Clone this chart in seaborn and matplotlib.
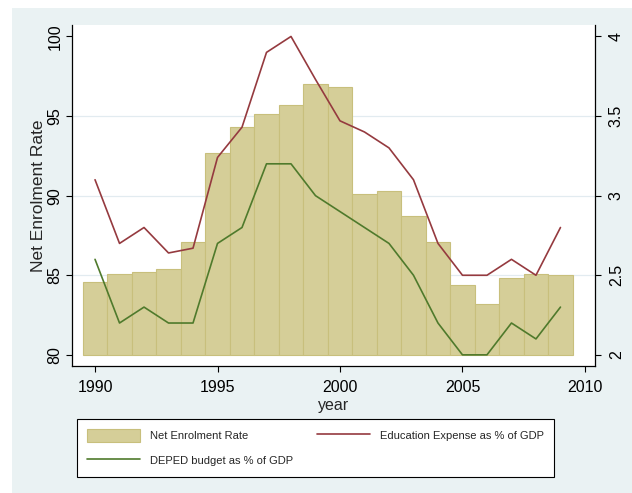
import numpy as np
import seaborn as sns
import matplotlib.pyplot as plt
from matplotlib.patches import Rectangle

############# Chart data ######################
years = np.arange(1990, 2010)
enrolment = np.array([84.6, 85.1, 85.2, 85.4, 87.1, 92.7, 94.3, 95.1, 95.7, 97.0,
                      96.8, 90.1, 90.3, 88.7, 87.1, 84.4, 83.2, 84.8, 85.1, 85.0])
edu_expense = np.array([3.1, 2.7, 2.8, 2.64, 2.67, 3.24, 3.43, 3.9, 4.0, 3.73,
                        3.47, 3.4, 3.3, 3.1, 2.7, 2.5, 2.5, 2.6, 2.5, 2.8])
deped_budget = np.array([2.6, 2.2, 2.3, 2.2, 2.2, 2.7, 2.8, 3.2, 3.2, 3.0,
                         2.9, 2.8, 2.7, 2.5, 2.2, 2.0, 2.0, 2.2, 2.1, 2.3])
x_ticks = [1990, 1995, 2000, 2005, 2010]
left_ticks = [80, 85, 90, 95, 100]
right_ticks = [2, 2.5, 3, 3.5, 4]
right_labels = ['2', '2.5', '3', '3.5', '4']
bar_base = 80

############# Style ######################
sns.set_style('white')
plt.rcParams['font.family'] = ['Liberation Sans', 'DejaVu Sans']

bg = '#EAF2F3'
bar_fill = '#D5CE98'
bar_edge = '#C8BF7C'
red = '#953A3F'
green = '#4F7A2C'

fig = plt.figure(figsize=(6.32, 4.93), dpi=100, facecolor='white')
fig.patches.append(Rectangle((12 / 632, 0), 1 - 12 / 632, 1 - 8 / 493,
                             transform=fig.transFigure, facecolor=bg,
                             edgecolor='none', zorder=-5))

ax = fig.add_axes([72 / 632, 127 / 493, 523 / 632, 341 / 493])
ax.set_facecolor('white')
ax2 = ax.twinx()

# bars on the left axis, starting at the base of 80
ax.bar(years, enrolment - bar_base, bottom=bar_base, width=1.0,
       color=bar_fill, edgecolor=bar_edge, linewidth=0.8,
       label='Net Enrolment Rate', zorder=2)

# lines on the right axis
sns.lineplot(x=years, y=edu_expense, ax=ax2, color=red, linewidth=1.2,
             label='Education Expense as % of GDP')
sns.lineplot(x=years, y=deped_budget, ax=ax2, color=green, linewidth=1.2,
             label='DEPED budget as % of GDP')
ax2.get_legend().remove()

############# Axes ######################
ax.set_xlim(1989.06, 2010.41)
ax.set_ylim(79.3, 100.72)
ax2.set_ylim(1.93, 4.072)

ax.set_xticks(x_ticks)
ax.set_xticklabels([str(t) for t in x_ticks], fontsize=11.5)
ax.set_yticks(left_ticks)
ax.set_yticklabels([str(t) for t in left_ticks], fontsize=11.5,
                   rotation=90, va='center')
ax2.set_yticks(right_ticks)
ax2.set_yticklabels(right_labels, fontsize=11.5, rotation=90, va='center')

ax.grid(axis='y', color='#E2EBF0', linewidth=0.9)
ax.set_axisbelow(True)
gl = ax.get_ygridlines()
gl[0].set_visible(False)
gl[-1].set_visible(False)

for a in (ax, ax2):
    a.tick_params(direction='out', length=4, width=0.8, color='black',
                  labelcolor='black', pad=3)
    for s in a.spines.values():
        s.set_color('black')
        s.set_linewidth(0.9)
    a.spines['top'].set_visible(False)
ax.spines['right'].set_visible(False)
ax2.spines['left'].set_visible(False)
ax2.spines['bottom'].set_visible(False)
ax.tick_params(axis='x', bottom=True, pad=6)
ax.tick_params(axis='y', left=True)
ax2.tick_params(axis='y', right=True, left=False, pad=6)

ax.set_xlabel('year', fontsize=11.5, labelpad=2)
ax.set_ylabel('Net Enrolment Rate', fontsize=12.5, labelpad=1)
ax2.set_ylabel('')

############# Legend ######################
h1, l1 = ax.get_legend_handles_labels()
h2, l2 = ax2.get_legend_handles_labels()
handles = [h1[0], h2[1], h2[0]]
labels = [l1[0], l2[1], l2[0]]
leg = fig.legend(handles, labels, ncol=2, loc='lower left',
                 bbox_to_anchor=(77 / 632, 16 / 493, 477 / 632, 55 / 493),
                 mode='expand', fontsize=8, frameon=True, fancybox=False,
                 edgecolor='black', framealpha=1, handlelength=4.8,
                 handleheight=1.4, handletextpad=0.9, columnspacing=3.0,
                 borderaxespad=0, labelspacing=1.1, borderpad=0.9)
leg.get_frame().set_linewidth(0.8)
leg.get_frame().set_facecolor('white')

plt.savefig('out.png', dpi=100, facecolor=fig.get_facecolor())
